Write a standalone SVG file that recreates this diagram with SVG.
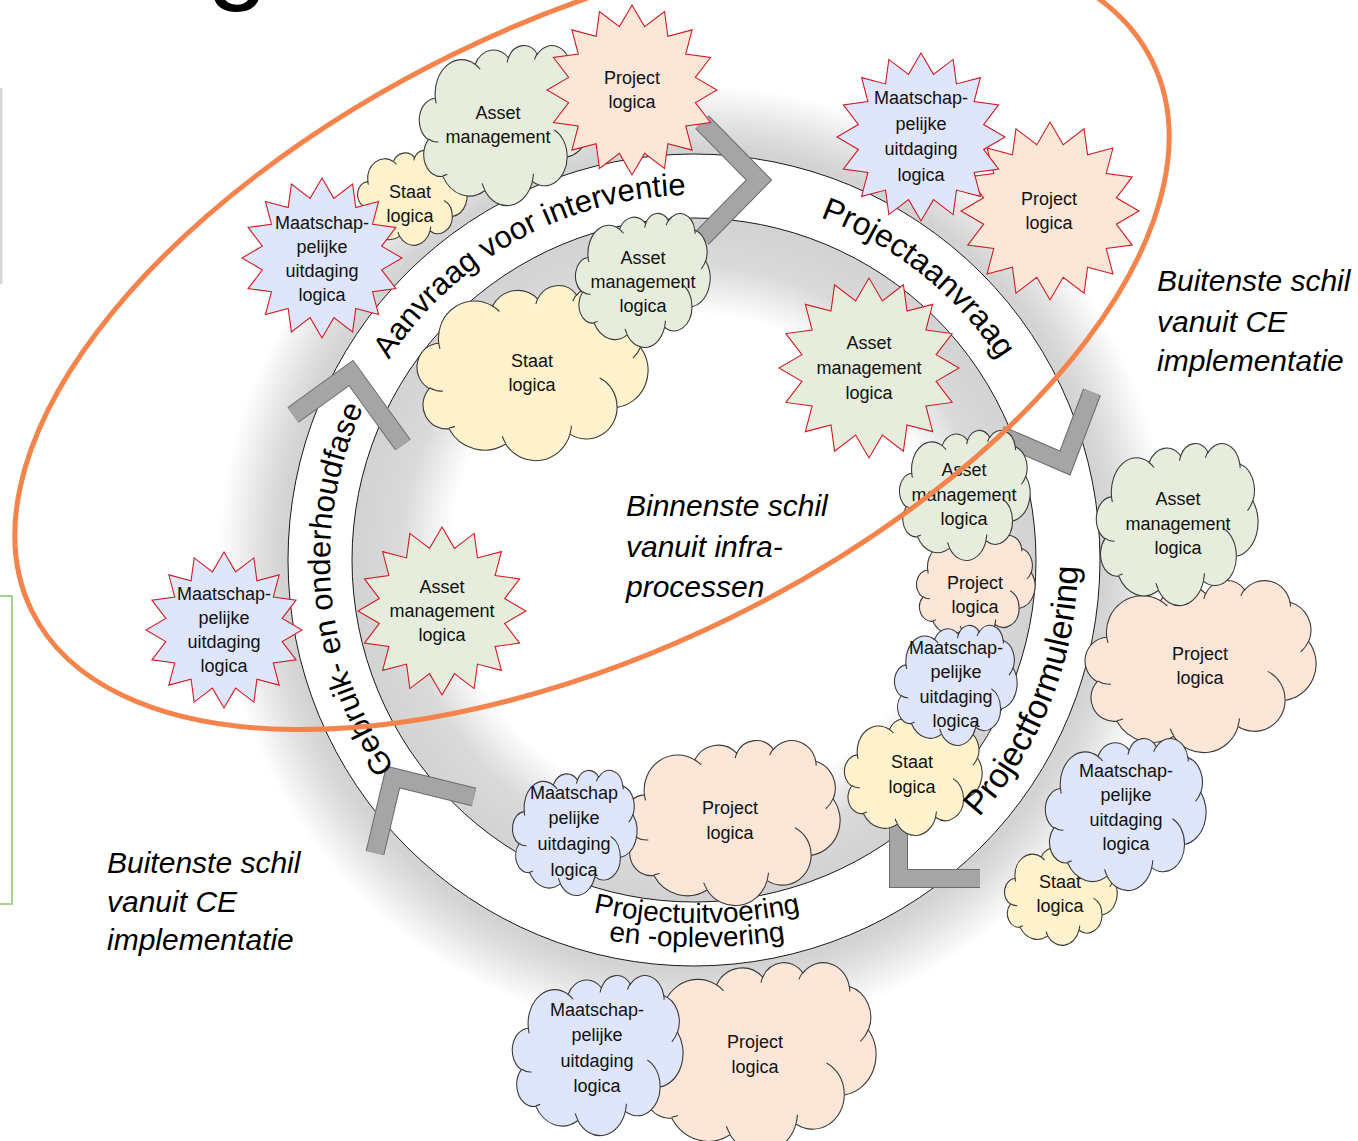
<svg xmlns="http://www.w3.org/2000/svg" xmlns:xlink="http://www.w3.org/1999/xlink" width="1358" height="1141" viewBox="0 0 1358 1141">
<style>
.cl{stroke:#3a3a3a;stroke-width:1.1}
.st{stroke:#d01c24;stroke-width:1.1}
.g{fill:#e6eddc}.y{fill:#fff2cc}.p{fill:#fbe6d8}.b{fill:#dfe6fb}
.nt{font-family:"Liberation Sans",Arial,sans-serif;font-size:18px;text-anchor:middle;fill:#111}
.rl{font-family:"Liberation Sans",Arial,sans-serif;fill:#000}
.it{font-family:"Liberation Sans",Arial,sans-serif;font-style:italic;font-size:30px;fill:#000}
.chev-o{fill:none;stroke:#6b6b6b;stroke-width:19;stroke-linejoin:miter}
.chev{fill:none;stroke:#a5a5a5;stroke-width:17;stroke-linejoin:miter}
.edge{fill:none;stroke:#1a1a1a;stroke-width:1}
</style>
<defs>
<radialGradient id="halo" gradientUnits="userSpaceOnUse" cx="694" cy="560" r="490">
<stop offset="0" stop-color="#fff"/>
<stop offset="0.5" stop-color="#fff"/>
<stop offset="0.6" stop-color="#dadada"/>
<stop offset="0.69" stop-color="#d3d3d3"/>
<stop offset="0.84" stop-color="#d3d3d3"/>
<stop offset="0.88" stop-color="#dedede"/>
<stop offset="0.97" stop-color="#fff"/>
<stop offset="1" stop-color="#fff"/>
</radialGradient>
<g id="cloud">
<path vector-effect="non-scaling-stroke" d="M3900,14370 A6753,9190 0 0 1 14006,5203 A5333,7267 0 0 1 22458,3434 A4365,5945 0 0 1 29833,2481 A4857,6595 0 0 1 38317,5577 A5333,7273 0 0 1 41818,15461 A6775,9220 0 0 1 37406,30208 A5785,7867 0 0 1 28558,36819 A6752,9215 0 0 1 16482,39270 A7720,10543 0 0 1 5804,35474 A4360,5918 0 0 1 2114,25551 A4345,5945 0 0 1 3900,14370 Z"/>
<path vector-effect="non-scaling-stroke" fill="none" d="M4693,26177 A4345,5945 0 0 1 2160,25380 M6928,34899 A4360,5918 0 0 1 5819,35281 M16478,39090 A6752,9215 0 0 1 15810,37351 M28827,34751 A6752,9215 0 0 1 28560,36660 M34129,22954 A5785,7867 0 0 1 37380,30090 M41798,15354 A5333,7273 0 0 1 40350,18030 M38324,5426 A4857,6595 0 0 1 38400,6690 M29078,3952 A4857,6595 0 0 1 29821,2338 M22141,4720 A4365,5945 0 0 1 22500,3329 M14000,5192 A6753,9190 0 0 1 15300,6542 M4127,15789 A6753,9190 0 0 1 3900,14370"/>
</g>
<polygon id="star" vector-effect="non-scaling-stroke" points="0,-100 14.83,-74.54 38.27,-92.39 42.22,-63.19 70.71,-70.71 63.19,-42.22 92.39,-38.27 74.54,-14.83 100,0 74.54,14.83 92.39,38.27 63.19,42.22 70.71,70.71 42.22,63.19 38.27,92.39 14.83,74.54 0,100 -14.83,74.54 -38.27,92.39 -42.22,63.19 -70.71,70.71 -63.19,42.22 -92.39,38.27 -74.54,14.83 -100,0 -74.54,-14.83 -92.39,-38.27 -63.19,-42.22 -70.71,-70.71 -42.22,-63.19 -38.27,-92.39 -14.83,-74.54"/>
<path id="arcA" d="M329.06,553.63 A365,365 0 0 1 882.0,247.1"/>
<path id="arcB" d="M560.2,220.4 A365,365 0 0 1 1055.0,613.95"/>
<path id="arcC" d="M750.76,939.78 A384,384 0 0 0 994.52,320.96"/>
<path id="arcD1" d="M410.2,832.6 A500,500 0 0 0 983.8,832.6"/>
<path id="arcD2" d="M352.9,838.5 A600,600 0 0 0 1041.1,838.5"/>
<path id="arcE" d="M540.17,889.9 A364,364 0 0 1 485.22,261.83"/>
</defs>

<rect width="1358" height="1141" fill="#fff"/>
<line x1="1" y1="88" x2="1" y2="284" stroke="#d6d6d6" stroke-width="3"/>
<rect x="-10" y="596" width="22" height="308" fill="none" stroke="#a9d18e" stroke-width="2"/>
<text x="207" y="-11" font-family="Liberation Sans, Arial, sans-serif" font-size="110" fill="#000">g</text>

<circle cx="694" cy="560" r="490" fill="url(#halo)"/>

<g id="connectors">
<circle cx="694" cy="560" r="374" fill="none" stroke="#fff" stroke-width="64"/>
<circle class="edge" cx="694" cy="560" r="342"/>
<circle class="edge" cx="694" cy="560" r="406"/>
<polyline class="chev-o" points="702,122 759,180 702,238"/>
<polyline class="chev" points="702,122 759,180 702,238"/>
<polyline class="chev-o" points="1092,392 1065,463 1000,435"/>
<polyline class="chev" points="1092,392 1065,463 1000,435"/>
<polyline class="chev-o" points="898.5,812 898.5,878.5 980,878.5"/>
<polyline class="chev" points="898.5,812 898.5,878.5 980,878.5"/>
<polyline class="chev-o" points="474,797 393,777 375,853"/>
<polyline class="chev" points="474,797 393,777 375,853"/>
<polyline class="chev-o" points="293,415 351,373 403,445"/>
<polyline class="chev" points="293,415 351,373 403,445"/>
</g>

<g id="n-staat-tl"><use href="#cloud" class="cl y" transform="translate(358,150) scale(0.002523,0.002199)"/>
<text class="nt"><tspan x="410" y="198">Staat</tspan><tspan x="410" y="222">logica</tspan></text></g>
<g id="n-asset-tl"><use href="#cloud" class="cl g" transform="translate(420,45) scale(0.003935,0.003704)"/>
<text class="nt"><tspan x="498" y="119">Asset</tspan><tspan x="498" y="143">management</tspan></text></g>
<g id="n-project-top"><use href="#star" class="st p" transform="translate(632,90) scale(0.85)"/>
<text class="nt"><tspan x="632" y="84">Project</tspan><tspan x="632" y="108">logica</tspan></text></g>
<g id="n-maat-tl"><use href="#star" class="st b" transform="translate(322,258) scale(0.8)"/>
<text class="nt"><tspan x="322" y="229">Maatschap-</tspan><tspan x="322" y="253">pelijke</tspan><tspan x="322" y="277">uitdaging</tspan><tspan x="322" y="301">logica</tspan></text></g>

<g id="n-staat-in"><use href="#cloud" class="cl y" transform="translate(418,285) scale(0.005324,0.004051)"/>
<text class="nt"><tspan x="532" y="367">Staat</tspan><tspan x="532" y="391">logica</tspan></text></g>
<g id="n-asset-in"><use href="#cloud" class="cl g" transform="translate(576,213) scale(0.003102,0.003102)"/>
<text class="nt"><tspan x="643" y="264">Asset</tspan><tspan x="643" y="288">management</tspan><tspan x="643" y="312">logica</tspan></text></g>

<g id="n-project-tr"><use href="#star" class="st p" transform="translate(1050,211) scale(0.89)"/>
<text class="nt"><tspan x="1049" y="205">Project</tspan><tspan x="1049" y="229">logica</tspan></text></g>
<g id="n-maat-tr"><use href="#star" class="st b" transform="translate(921,137) scale(0.84)"/>
<text class="nt"><tspan x="921" y="104">Maatschap-</tspan><tspan x="921" y="129.5">pelijke</tspan><tspan x="921" y="155">uitdaging</tspan><tspan x="921" y="180.5">logica</tspan></text></g>
<g id="n-asset-star-r"><use href="#star" class="st g" transform="translate(869,368) scale(0.9)"/>
<text class="nt"><tspan x="869" y="349">Asset</tspan><tspan x="869" y="374">management</tspan><tspan x="869" y="399">logica</tspan></text></g>

<g id="n-staat-r1"><use href="#cloud" class="cl y" transform="translate(845,715) scale(0.003171,0.002778)"/>
<text class="nt"><tspan x="912" y="768">Staat</tspan><tspan x="912" y="793">logica</tspan></text></g>
<g id="n-project-r1"><use href="#cloud" class="cl p" transform="translate(917,535) scale(0.002731,0.002431)"/>
<text class="nt"><tspan x="975" y="589">Project</tspan><tspan x="975" y="613">logica</tspan></text></g>
<g id="n-asset-r1"><use href="#cloud" class="cl g" transform="translate(900,430) scale(0.003009,0.003009)"/>
<text class="nt"><tspan x="964" y="476">Asset</tspan><tspan x="964" y="501">management</tspan><tspan x="964" y="525">logica</tspan></text></g>
<g id="n-maat-r1"><use href="#cloud" class="cl b" transform="translate(895,625) scale(0.002824,0.002778)"/>
<text class="nt"><tspan x="956" y="654">Maatschap-</tspan><tspan x="956" y="678">pelijke</tspan><tspan x="956" y="703">uitdaging</tspan><tspan x="956" y="727">logica</tspan></text></g>

<g id="n-project-r2"><use href="#cloud" class="cl p" transform="translate(1086,580) scale(0.005324,0.003981)"/>
<text class="nt"><tspan x="1200" y="660">Project</tspan><tspan x="1200" y="684">logica</tspan></text></g>
<g id="n-asset-r2"><use href="#cloud" class="cl g" transform="translate(1097,443) scale(0.003727,0.00375)"/>
<text class="nt"><tspan x="1178" y="505">Asset</tspan><tspan x="1178" y="530">management</tspan><tspan x="1178" y="554">logica</tspan></text></g>
<g id="n-staat-r2"><use href="#cloud" class="cl y" transform="translate(1005,845) scale(0.002593,0.002315)"/>
<text class="nt"><tspan x="1060" y="888">Staat</tspan><tspan x="1060" y="912">logica</tspan></text></g>
<g id="n-maat-r2"><use href="#cloud" class="cl b" transform="translate(1046,738) scale(0.003704,0.003519)"/>
<text class="nt"><tspan x="1126" y="777">Maatschap-</tspan><tspan x="1126" y="801">pelijke</tspan><tspan x="1126" y="826">uitdaging</tspan><tspan x="1126" y="850">logica</tspan></text></g>

<g id="n-project-b1"><use href="#cloud" class="cl p" transform="translate(625,740) scale(0.004977,0.003819)"/>
<text class="nt"><tspan x="730" y="814">Project</tspan><tspan x="730" y="839">logica</tspan></text></g>
<g id="n-maat-b1"><use href="#cloud" class="cl b" transform="translate(513,770) scale(0.00287,0.002894)"/>
<text class="nt"><tspan x="574" y="799">Maatschap</tspan><tspan x="574" y="824">pelijke</tspan><tspan x="574" y="850">uitdaging</tspan><tspan x="574" y="876">logica</tspan></text></g>

<g id="n-project-b2"><use href="#cloud" class="cl p" transform="translate(640,962) scale(0.005463,0.004398)"/>
<text class="nt"><tspan x="755" y="1048">Project</tspan><tspan x="755" y="1073">logica</tspan></text></g>
<g id="n-maat-b2"><use href="#cloud" class="cl b" transform="translate(513,975) scale(0.003935,0.003704)"/>
<text class="nt"><tspan x="597" y="1016">Maatschap-</tspan><tspan x="597" y="1041">pelijke</tspan><tspan x="597" y="1067">uitdaging</tspan><tspan x="597" y="1092">logica</tspan></text></g>

<g id="n-asset-star-l"><use href="#star" class="st g" transform="translate(442,611) scale(0.84)"/>
<text class="nt"><tspan x="442" y="593">Asset</tspan><tspan x="442" y="617">management</tspan><tspan x="442" y="641">logica</tspan></text></g>
<g id="n-maat-l"><use href="#star" class="st b" transform="translate(224,630) scale(0.78)"/>
<text class="nt"><tspan x="224" y="600">Maatschap-</tspan><tspan x="224" y="624">pelijke</tspan><tspan x="224" y="648">uitdaging</tspan><tspan x="224" y="672">logica</tspan></text></g>

<g id="ring-labels">
<text class="rl" font-size="31"><textPath href="#arcA" startOffset="50%" text-anchor="middle">Aanvraag voor interventie</textPath></text>
<text class="rl" font-size="32"><textPath href="#arcB" startOffset="50%" text-anchor="middle">Projectaanvraag</textPath></text>
<text class="rl" font-size="34"><textPath href="#arcC" startOffset="50%" text-anchor="middle">Projectformulering</textPath></text>
<text class="rl" font-size="28"><textPath href="#arcD1" startOffset="50%" text-anchor="middle">Projectuitvoering</textPath></text>
<text class="rl" font-size="28"><textPath href="#arcD2" startOffset="50%" text-anchor="middle">en -oplevering</textPath></text>
<text class="rl" font-size="31"><textPath href="#arcE" startOffset="50%" text-anchor="middle">Gebruik- en onderhoudfase</textPath></text>
</g>

<g id="label-outer-right"><text class="it"><tspan x="1157" y="291">Buitenste schil</tspan><tspan x="1157" y="332">vanuit CE</tspan><tspan x="1157" y="371">implementatie</tspan></text></g>
<g id="label-outer-left"><text class="it"><tspan x="107" y="873">Buitenste schil</tspan><tspan x="107" y="912">vanuit CE</tspan><tspan x="107" y="950">implementatie</tspan></text></g>
<g id="label-inner"><text class="it"><tspan x="626" y="516">Binnenste schil</tspan><tspan x="626" y="557">vanuit infra-</tspan><tspan x="626" y="597">processen</tspan></text></g>

<ellipse id="outer-shell" cx="592" cy="336" rx="624" ry="314" transform="rotate(-26.1 592 336)" fill="none" stroke="#f5844c" stroke-width="5"/>
</svg>
